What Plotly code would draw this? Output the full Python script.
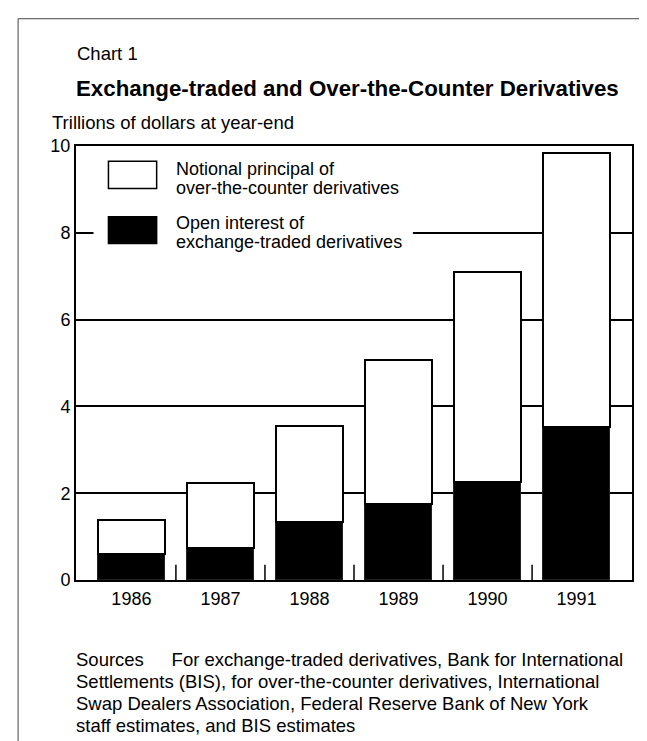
import plotly.graph_objects as go

years = ["1986", "1987", "1988", "1989", "1990", "1991"]
exchange_traded = [0.60, 0.74, 1.33, 1.76, 2.25, 3.52]
otc_notional = [0.79, 1.49, 2.22, 3.32, 4.84, 6.32]
y_ticks = [0, 2, 4, 6, 8, 10]

W, H = 647, 741
X0, X1 = 67.5, 624.5
YT, YB = 137.5, 572.3
FONT = "Liberation Sans, Arial, Helvetica, sans-serif"


def px(x):
    return (x - X0) / (X1 - X0)


def py(y):
    return (YB - y) / (YB - YT)


xpos = list(range(len(years)))

fig = go.Figure()
fig.add_trace(go.Bar(
    x=xpos, y=exchange_traded, width=0.75,
    marker=dict(color="black", line=dict(color="#222", width=1)),
    name="Open interest of exchange-traded derivatives", showlegend=False,
))
fig.add_trace(go.Bar(
    x=xpos, y=otc_notional, width=0.75,
    marker=dict(color="white", line=dict(color="black", width=2)),
    name="Notional principal of over-the-counter derivatives", showlegend=False,
))

shapes = []
# between-bar ticks on the baseline
for i in range(len(years) - 1):
    shapes.append(dict(type="line", xref="x", yref="y", x0=i + 0.5, x1=i + 0.5,
                       y0=0, y1=0.35, line=dict(color="black", width=1.5)))
# legend background and swatches
shapes.append(dict(type="rect", xref="paper", yref="paper",
                   x0=px(85), x1=px(405), y0=py(250), y1=py(145),
                   fillcolor="white", line=dict(width=0), layer="above"))
shapes.append(dict(type="rect", xref="paper", yref="paper",
                   x0=px(100), x1=px(148.3), y0=py(180), y1=py(152.7),
                   fillcolor="white", line=dict(color="black", width=1.5), layer="above"))
shapes.append(dict(type="rect", xref="paper", yref="paper",
                   x0=px(100), x1=px(148.3), y0=py(235.3), y1=py(208.3),
                   fillcolor="black", line=dict(color="black", width=1.5), layer="above"))
# outer frame of the scanned page
shapes.append(dict(type="line", xref="paper", yref="paper",
                   x0=px(9.5), x1=px(9.5), y0=py(741), y1=py(10),
                   line=dict(color="#444", width=1)))
shapes.append(dict(type="line", xref="paper", yref="paper",
                   x0=px(9.5), x1=px(647), y0=py(10), y1=py(10),
                   line=dict(color="#444", width=1)))

def ann(text, x, y, size, bold=False):
    return dict(text=("<b>%s</b>" % text) if bold else text,
                xref="paper", yref="paper", x=px(x), y=py(y),
                xanchor="left", yanchor="middle", showarrow=False,
                font=dict(family=FONT, size=size, color="black"))

annotations = [
    ann("Chart 1", 66, 45, 18.5),
    ann("Exchange-traded and Over-the-Counter Derivatives", 65, 80, 22.3, bold=True),
    ann("Trillions of dollars at year-end", 41, 114, 18.5),
    ann("Notional principal of", 166, 161, 18),
    ann("over-the-counter derivatives", 166, 180, 18),
    ann("Open interest of", 166, 215, 18),
    ann("exchange-traded derivatives", 166, 234, 18),
]
sources = [
    "Sources\u2002\u2002\u2002For exchange-traded derivatives, Bank for International",
    "Settlements (BIS), for over-the-counter derivatives, International",
    "Swap Dealers Association, Federal Reserve Bank of New York",
    "staff estimates, and BIS estimates",
]
for k, line in enumerate(sources):
    annotations.append(ann(line, 65, 652 + 22 * k, 18.5))

fig.update_layout(
    width=W, height=H,
    margin=dict(l=X0, r=W - X1, t=YT, b=H - YB, pad=0),
    paper_bgcolor="white", plot_bgcolor="white",
    barmode="stack", bargap=0,
    showlegend=False,
    font=dict(family=FONT, size=18, color="black"),
    shapes=shapes, annotations=annotations,
    xaxis=dict(range=[-0.622, 5.622], tickvals=xpos, ticktext=years,
               showgrid=False, zeroline=False, showline=True, mirror=True,
               linecolor="black", linewidth=2, ticks="", ticklabelstandoff=1,
               tickfont=dict(family=FONT, size=18, color="black"), fixedrange=True),
    yaxis=dict(range=[0, 10], tickvals=y_ticks, ticktext=[str(v) for v in y_ticks],
               showgrid=True, gridcolor="black", gridwidth=1.5, zeroline=False,
               showline=True, mirror=True, linecolor="black", linewidth=2,
               ticks="", ticklabelstandoff=0,
               tickfont=dict(family=FONT, size=18, color="black"), fixedrange=True),
)

fig.write_html("out.html")
